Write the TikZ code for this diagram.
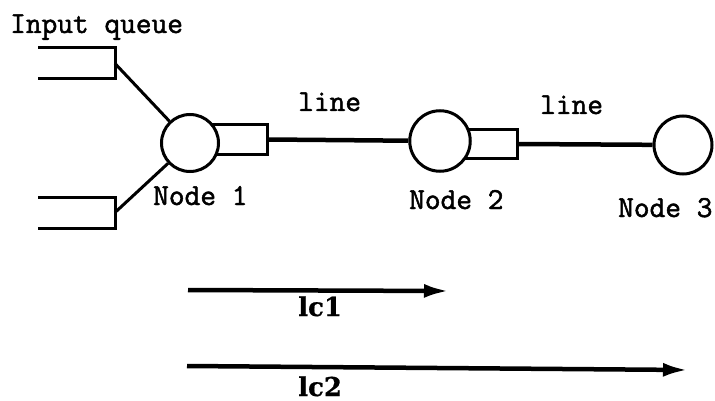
\documentclass[tikz,border=0pt]{standalone}
\usepackage{fontspec}
\setmonofont{Latin Modern Mono}[FakeBold=1.6]
\newfontfamily\lcfont{DejaVu Serif}[FakeBold=0.6]
\usetikzlibrary{arrows.meta}
\tikzset{
  thinln/.style={line width=3pt},
  circ/.style={circle, draw, fill=white, line width=3pt, inner sep=0pt},
  buf/.style={rectangle, draw, fill=white, line width=3pt, minimum height=29.5pt, inner sep=0pt, anchor=west},
  link/.style={line width=4.5pt},
  lbl/.style={anchor=base west, inner sep=0pt, font=\fontsize{30.5}{30.5}\selectfont\ttfamily\bfseries},
  lc/.style={anchor=base west, inner sep=0pt, font=\fontsize{26}{26}\selectfont\lcfont\bfseries},
  span/.style={line width=4.5pt, -{Latex[length=25pt,width=14pt]}},
}
\begin{document}
\begin{tikzpicture}[x=1pt,y=-1pt]
\useasboundingbox (0,0) rectangle (715,401);
% input queues
\draw[thinln] (38,48) -| (115,79) -- (38,79);
\draw[thinln] (38,197) -| (115,228) -- (38,228);
\coordinate (q1) at (115,63.5);
\coordinate (q2) at (115,212.5);
% buffers (drawn behind circles)
\node[buf, minimum width=75.5pt] (b1) at (190,139.5) {};
\node[buf, minimum width=75.5pt] (b2) at (440,144) {};
% nodes
\node[circ, minimum size=57pt] (n1) at (190,143) {};
\node[circ, minimum size=60.5pt] (n2) at (440,141) {};
\node[circ, minimum size=58pt] (n3) at (683,145) {};
% connectors
\draw[thinln] (q1) -- (n1);
\draw[thinln] (q2) -- (n1);
\draw[link] (b1.east) -- (n2);
\draw[link] (b2.east) -- (n3);
% labels
\node[lbl] (tin) at (10,33) {Input queue};
\node[lbl] (t1) at (153,205) {Node 1};
\node[lbl] (t2) at (409,209) {Node 2};
\node[lbl] (t3) at (618,217) {Node 3};
\node[lbl] (l1) at (298,111) {line};
\node[lbl] (l2) at (540,114) {line};
% spans
\coordinate (a1s) at (188,290);
\coordinate (a1e) at (449,291);
\coordinate (a2s) at (187,366);
\coordinate (a2e) at (688,370);
\draw[span] (a1s) -- (a1e);
\draw[span] (a2s) -- (a2e);
\node[lc] (c1) at (298,316) {lc1};
\node[lc] (c2) at (298,396) {lc2};
\end{tikzpicture}
\end{document}
